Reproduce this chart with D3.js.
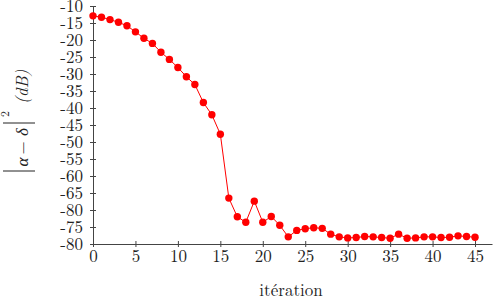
<!DOCTYPE html>
<html>
<head>
<meta charset="utf-8">
<script src="https://cdn.jsdelivr.net/npm/d3@7/dist/d3.min.js"></script>
<style>
  html, body { margin: 0; padding: 0; background: #fff; }
  svg { display: block; }
</style>
</head>
<body>
<svg id="chart" width="496" height="306"></svg>
<script>
const iterations = d3.range(0, 46);
const values = [
  -12.9, -13.3, -14.0, -14.8, -15.8, -17.6, -19.5, -21.0, -23.6, -25.7,
  -28.1, -30.8, -33.1, -38.4, -42.0, -47.7, -66.5, -72.0, -73.6, -67.4,
  -73.6, -71.9, -74.5, -77.9, -76.0, -75.5, -75.2, -75.4, -77.1, -77.9,
  -78.2, -78.1, -77.8, -77.9, -78.1, -78.3, -77.1, -78.3, -78.2, -77.9,
  -77.9, -78.1, -78.0, -77.6, -77.8, -78.0
];
const xTickValues = [0, 5, 10, 15, 20, 25, 30, 35, 40, 45];
const yTickValues = [-10, -15, -20, -25, -30, -35, -40, -45, -50, -55, -60, -65, -70, -75, -80];
const yTickLabels = ["-10", "-15", "-20", "-25", "-30", "-35", "-40", "-45", "-50", "-55", "-60", "-65", "-80", "-75", "-80"];
const xLabel = "itération";

const svg = d3.select("#chart");
const FONT = '"Latin Modern Roman", "Liberation Serif", serif';
const axisColor = "#444";
const textColor = "#222";

const x = d3.scaleLinear().domain([0, 47]).range([93, 492]);
const y = d3.scaleLinear().domain([-80, -10]).range([244, 6]);

// X axis
const xAxis = svg.append("g").attr("transform", `translate(0,${y(-80)})`)
  .call(d3.axisBottom(x).tickValues(xTickValues).tickSize(3).tickSizeOuter(0).tickFormat(d3.format("d")));
xAxis.select(".domain").attr("stroke", axisColor);
xAxis.selectAll(".tick line").attr("stroke", axisColor).attr("y1", -3).attr("y2", 3);
xAxis.selectAll(".tick text").style("font-family", FONT).style("font-size", "17px")
  .attr("fill", textColor).attr("y", 18).attr("dy", 0);

// Y axis
const yAxis = svg.append("g").attr("transform", `translate(${x(0)},0)`)
  .call(d3.axisLeft(y).tickValues(yTickValues).tickSize(3).tickSizeOuter(0)
    .tickFormat((d, i) => yTickLabels[i]));
yAxis.select(".domain").attr("stroke", axisColor);
yAxis.selectAll(".tick line").attr("stroke", axisColor).attr("x1", -3).attr("x2", 3);
yAxis.selectAll(".tick text").style("font-family", FONT).style("font-size", "17px")
  .attr("fill", textColor).attr("x", -10).attr("dy", "0.33em");

// line
const pts = iterations.map((it, i) => [it, values[i]]);
svg.append("path").datum(pts)
  .attr("fill", "none").attr("stroke", "#ff0000").attr("stroke-width", 1)
  .attr("d", d3.line().x(d => x(d[0])).y(d => y(d[1])));
svg.append("g").selectAll("circle").data(pts).join("circle")
  .attr("cx", d => x(d[0])).attr("cy", d => y(d[1])).attr("r", 3.7).attr("fill", "#ff0000");

// X label
svg.append("text").attr("x", 291).attr("y", 296).attr("text-anchor", "middle")
  .style("font-family", FONT).style("font-size", "17px").attr("fill", textColor).text(xLabel);

// Y label (rotated)
const g = svg.append("g").attr("transform", "translate(28,119) rotate(-90)");
g.append("line").attr("x1", -52).attr("x2", -52).attr("y1", -25).attr("y2", 7).attr("stroke", textColor).attr("stroke-width", 1);
g.append("line").attr("x1", -4).attr("x2", -4).attr("y1", -25).attr("y2", 7).attr("stroke", textColor).attr("stroke-width", 1);
g.append("text").attr("x", -43).attr("y", 0).attr("text-anchor", "middle")
  .style("font-family", FONT).style("font-style", "italic").style("font-size", "17px").attr("fill", textColor).text("α");
g.append("text").attr("x", -29).attr("y", 0).attr("text-anchor", "middle")
  .style("font-family", FONT).style("font-size", "17px").attr("fill", textColor).text("−");
g.append("text").attr("x", -13).attr("y", 0).attr("text-anchor", "middle")
  .style("font-family", FONT).style("font-style", "italic").style("font-size", "17px").attr("fill", textColor).text("δ");
g.append("text").attr("x", 5).attr("y", -19).attr("text-anchor", "middle")
  .style("font-family", FONT).style("font-size", "12px").attr("fill", textColor).text("2");
g.append("text").attr("x", 15).attr("y", 0).attr("text-anchor", "start")
  .style("font-family", FONT).style("font-style", "italic").style("font-size", "17px").attr("fill", textColor).text("(dB)");
</script>
</body>
</html>
